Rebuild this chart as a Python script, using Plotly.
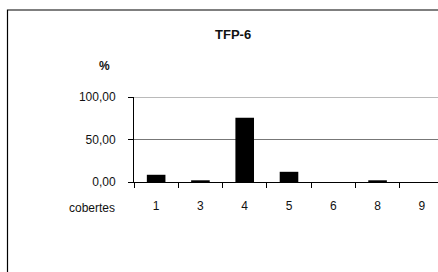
import plotly.graph_objects as go

categories = ["1", "3", "4", "5", "6", "8", "9"]
values = [8.5, 2.0, 75.5, 12.0, 0.0, 2.0, 0.0]
y_tick_vals = [0, 50, 100]
y_tick_text = ["0,00", "50,00", "100,00"]

W, H = 438, 272
L, T, B = 134, 97, 90
pw = W - L
ph = H - T - B

def px(x):
    return (x - L) / pw

def py(y):
    return (H - B - y) / ph

fig = go.Figure(go.Bar(x=categories, y=values, marker=dict(color="black", line=dict(width=0)), width=0.42))

font = dict(family="Liberation Sans, Arial, sans-serif", size=12, color="#111")

border = dict(color="black", width=1.2)
fig.update_layout(
    width=W, height=H,
    margin=dict(l=L, r=0, t=T, b=B, pad=0),
    paper_bgcolor="white", plot_bgcolor="white",
    showlegend=False,
    font=font,
    xaxis=dict(type="category", range=[-0.5, 6.5 - (444 - 438) / 44.3],
               tickson="boundaries", ticks="outside", ticklen=5, tickcolor="black",
               showline=True, linecolor="black", linewidth=1, showgrid=False,
               ticklabelstandoff=13, fixedrange=True),
    yaxis=dict(range=[0, 100], tickvals=y_tick_vals, ticktext=y_tick_text,
               ticks="outside", ticklen=5, tickcolor="black",
               showline=True, linecolor="black", linewidth=1,
               showgrid=True, gridcolor="#777777", gridwidth=1,
               zeroline=False, ticklabelstandoff=10, fixedrange=True),
    shapes=[
        dict(type="line", xref="paper", yref="y", x0=0, x1=1, y0=100, y1=100,
             line=dict(color="#777777", width=1), layer="below"),
        dict(type="path", xref="paper", yref="paper",
             path=f"M {px(7.5)},{py(272)} L {px(7.5)},{py(10)} L {px(438)},{py(10)}",
             line=border, layer="above"),
    ],
    annotations=[
        dict(text="<b>TFP-6</b>", x=px(233), y=py(35), xref="paper", yref="paper",
             showarrow=False, font=dict(family="Liberation Sans, Arial, sans-serif", size=13, color="#111"),
             xanchor="center", yanchor="middle"),
        dict(text="<b>%</b>", x=px(104), y=py(66), xref="paper", yref="paper",
             showarrow=False, font=dict(family="Liberation Sans, Arial, sans-serif", size=12, color="#111"),
             xanchor="center", yanchor="middle"),
        dict(text="cobertes", x=px(92), y=py(208), xref="paper", yref="paper",
             showarrow=False, font=font, xanchor="center", yanchor="middle"),
    ],
)

fig.write_html("out.html", config={"displayModeBar": False, "staticPlot": True},
               post_script="document.body.style.margin='0';document.body.style.overflow='hidden';")
